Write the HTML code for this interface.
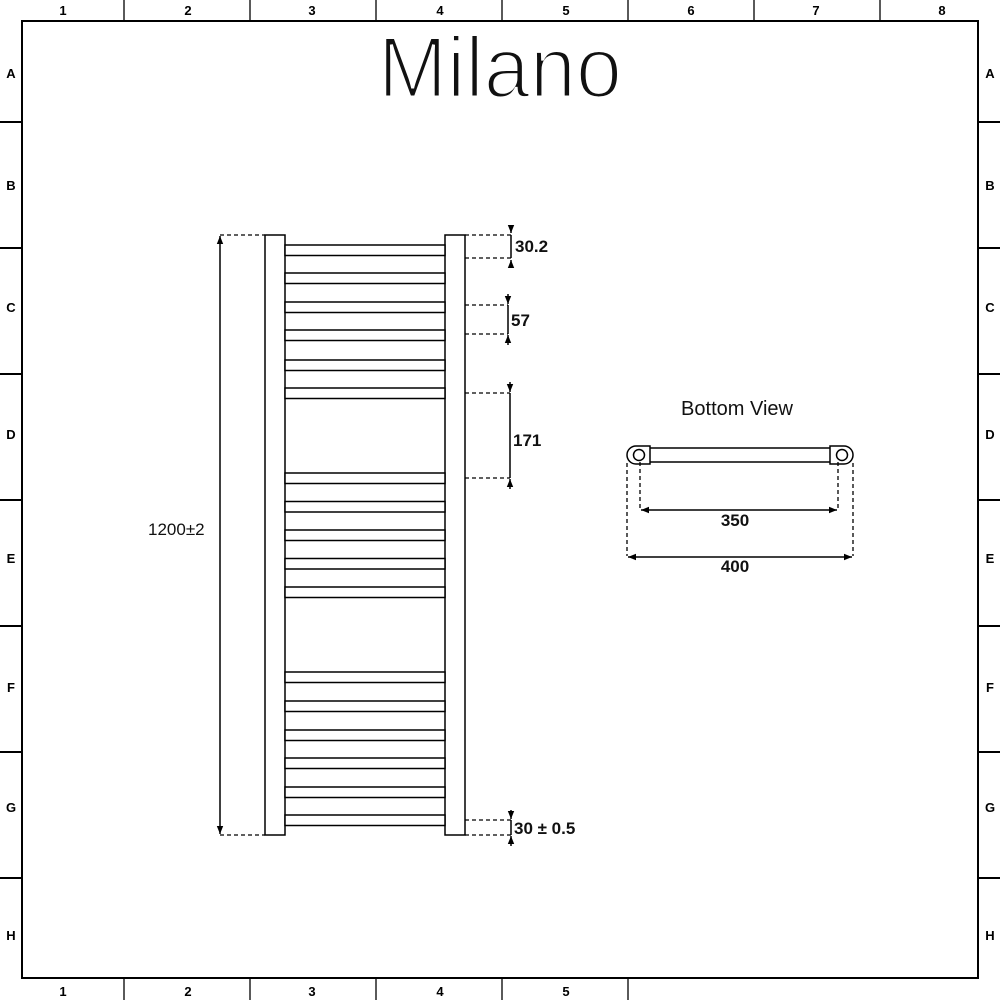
<!DOCTYPE html>
<html><head><style>html,body{margin:0;padding:0;background:#fff}svg{display:block}</style></head>
<body>
<svg width="1000" height="1000" viewBox="0 0 1000 1000" xmlns="http://www.w3.org/2000/svg" font-family="Liberation Sans, sans-serif">
<defs>
<marker id="ar" viewBox="0 0 10 10" refX="10" refY="5" markerWidth="8" markerHeight="8" orient="auto-start-reverse" markerUnits="userSpaceOnUse"><path d="M0,1 L10,5 L0,9 z" fill="#000"/></marker>
</defs>
<rect width="1000" height="1000" fill="#fff"/>
<!-- frame -->
<rect x="22" y="21" width="956" height="957" fill="none" stroke="#000" stroke-width="2"/>
<g stroke="#000" stroke-width="1.3">
<line x1="124" y1="0" x2="124" y2="21"/><line x1="250" y1="0" x2="250" y2="21"/><line x1="376" y1="0" x2="376" y2="21"/><line x1="502" y1="0" x2="502" y2="21"/><line x1="628" y1="0" x2="628" y2="21"/><line x1="754" y1="0" x2="754" y2="21"/><line x1="880" y1="0" x2="880" y2="21"/>
<line x1="124" y1="978" x2="124" y2="1000"/><line x1="250" y1="978" x2="250" y2="1000"/><line x1="376" y1="978" x2="376" y2="1000"/><line x1="502" y1="978" x2="502" y2="1000"/><line x1="628" y1="978" x2="628" y2="1000"/>
</g>
<g stroke="#000" stroke-width="2">
<line x1="0" y1="122" x2="22" y2="122"/><line x1="0" y1="248" x2="22" y2="248"/><line x1="0" y1="374" x2="22" y2="374"/><line x1="0" y1="500" x2="22" y2="500"/><line x1="0" y1="626" x2="22" y2="626"/><line x1="0" y1="752" x2="22" y2="752"/><line x1="0" y1="878" x2="22" y2="878"/>
<line x1="978" y1="122" x2="1000" y2="122"/><line x1="978" y1="248" x2="1000" y2="248"/><line x1="978" y1="374" x2="1000" y2="374"/><line x1="978" y1="500" x2="1000" y2="500"/><line x1="978" y1="626" x2="1000" y2="626"/><line x1="978" y1="752" x2="1000" y2="752"/><line x1="978" y1="878" x2="1000" y2="878"/>
</g>
<g font-size="13" font-weight="bold" text-anchor="middle">
<text x="63" y="15">1</text><text x="188" y="15">2</text><text x="312" y="15">3</text><text x="440" y="15">4</text><text x="566" y="15">5</text><text x="691" y="15">6</text><text x="816" y="15">7</text><text x="942" y="15">8</text>
<text x="63" y="996">1</text><text x="188" y="996">2</text><text x="312" y="996">3</text><text x="440" y="996">4</text><text x="566" y="996">5</text>
<text x="11" y="78">A</text><text x="11" y="190">B</text><text x="11" y="312">C</text><text x="11" y="439">D</text><text x="11" y="563">E</text><text x="11" y="692">F</text><text x="11" y="812">G</text><text x="11" y="940">H</text>
<text x="990" y="78">A</text><text x="990" y="190">B</text><text x="990" y="312">C</text><text x="990" y="439">D</text><text x="990" y="563">E</text><text x="990" y="692">F</text><text x="990" y="812">G</text><text x="990" y="940">H</text>
</g>
<text x="500" y="97" font-size="86" text-anchor="middle" textLength="244" lengthAdjust="spacingAndGlyphs" fill="#111" stroke="#fff" stroke-width="3">Milano</text>
<!-- radiator -->
<g fill="#fff" stroke="#000" stroke-width="1.5">
<rect x="265" y="235" width="20" height="600"/>
<rect x="445" y="235" width="20" height="600"/>
<rect x="285" y="245" width="160" height="10.5"/><rect x="285" y="273" width="160" height="10.5"/><rect x="285" y="302" width="160" height="10.5"/><rect x="285" y="330" width="160" height="10.5"/><rect x="285" y="360" width="160" height="10.5"/><rect x="285" y="388" width="160" height="10.5"/>
<rect x="285" y="473" width="160" height="10.5"/><rect x="285" y="501.5" width="160" height="10.5"/><rect x="285" y="530" width="160" height="10.5"/><rect x="285" y="558.5" width="160" height="10.5"/><rect x="285" y="587" width="160" height="10.5"/>
<rect x="285" y="672" width="160" height="10.5"/><rect x="285" y="701" width="160" height="10.5"/><rect x="285" y="730" width="160" height="10.5"/><rect x="285" y="758" width="160" height="10.5"/><rect x="285" y="787" width="160" height="10.5"/><rect x="285" y="815" width="160" height="10.5"/>
</g>
<g stroke="#000" stroke-width="1.3" stroke-dasharray="4,3" fill="none">
<line x1="220" y1="235" x2="265" y2="235"/><line x1="220" y1="835" x2="265" y2="835"/>
<line x1="465" y1="235" x2="511" y2="235"/><line x1="465" y1="258" x2="511" y2="258"/>
<line x1="465" y1="305" x2="508" y2="305"/><line x1="465" y1="334" x2="508" y2="334"/>
<line x1="465" y1="393" x2="510" y2="393"/><line x1="465" y1="478" x2="510" y2="478"/>
<line x1="465" y1="820" x2="511" y2="820"/><line x1="465" y1="835" x2="511" y2="835"/>
</g>
<g stroke="#000" stroke-width="1.5" fill="none">
<line x1="220" y1="236" x2="220" y2="834" marker-start="url(#ar)" marker-end="url(#ar)"/>
<line x1="511" y1="225" x2="511" y2="233" marker-end="url(#ar)"/><line x1="511" y1="235" x2="511" y2="258"/><line x1="511" y1="268" x2="511" y2="260" marker-end="url(#ar)"/>
<line x1="508" y1="294" x2="508" y2="304" marker-end="url(#ar)"/><line x1="508" y1="305" x2="508" y2="334"/><line x1="508" y1="345" x2="508" y2="335" marker-end="url(#ar)"/>
<line x1="510" y1="382" x2="510" y2="392" marker-end="url(#ar)"/><line x1="510" y1="393" x2="510" y2="478"/><line x1="510" y1="489" x2="510" y2="479" marker-end="url(#ar)"/>
<line x1="511" y1="810" x2="511" y2="819" marker-end="url(#ar)"/><line x1="511" y1="820" x2="511" y2="835"/><line x1="511" y1="846" x2="511" y2="836" marker-end="url(#ar)"/>
</g>
<g font-size="17" font-weight="bold" fill="#111">
<text x="515" y="252">30.2</text><text x="511" y="326">57</text><text x="513" y="446">171</text><text x="514" y="834">30 ± 0.5</text>
<text x="148" y="535" font-weight="normal">1200±2</text>
</g>
<!-- bottom view -->
<text x="737" y="415" font-size="20" text-anchor="middle" fill="#111">Bottom View</text>
<g stroke="#000" stroke-width="1.5" fill="#fff">
<rect x="648" y="448" width="184" height="14"/>
<path d="M636,446 H650 V464 H636 A9,9 0 0 1 636,446 Z"/>
<path d="M844,446 H830 V464 H844 A9,9 0 0 0 844,446 Z"/>
<circle cx="639" cy="455" r="5.5"/>
<circle cx="842" cy="455" r="5.5"/>
</g>
<g stroke="#000" stroke-width="1.3" stroke-dasharray="4,3">
<line x1="627" y1="463" x2="627" y2="556"/><line x1="640" y1="462" x2="640" y2="510"/>
<line x1="838" y1="462" x2="838" y2="510"/><line x1="853" y1="463" x2="853" y2="556"/>
</g>
<g stroke="#000" stroke-width="1.5">
<line x1="641" y1="510" x2="837" y2="510" marker-start="url(#ar)" marker-end="url(#ar)"/>
<line x1="628" y1="557" x2="852" y2="557" marker-start="url(#ar)" marker-end="url(#ar)"/>
</g>
<g font-size="17" font-weight="bold" text-anchor="middle" fill="#111">
<text x="735" y="526">350</text><text x="735" y="572">400</text>
</g>
</svg>
</body></html>
